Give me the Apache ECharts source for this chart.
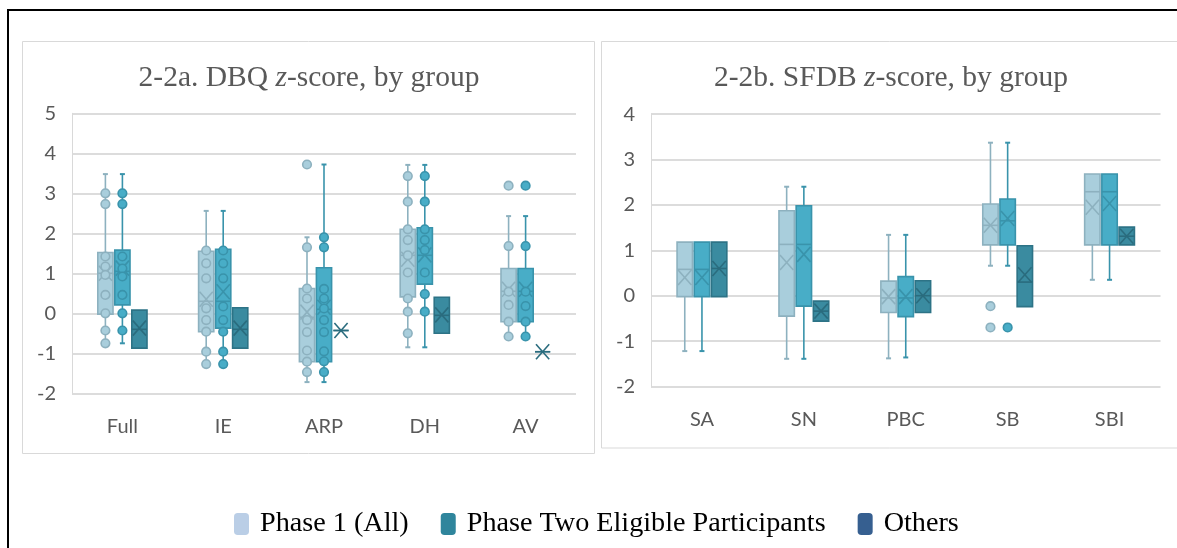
<!DOCTYPE html>
<html><head><meta charset="utf-8">
<script src="https://cdn.jsdelivr.net/npm/echarts@6/dist/echarts.min.js"></script>
<style>html,body{margin:0;padding:0;background:#fff}#c{width:1177px;height:548px}</style>
</head><body><div id="c"></div>
<script>
// ---------- DATA ----------
const dbqCats = ['Full', 'IE', 'ARP', 'DH', 'AV'];
const sfdbCats = ['SA', 'SN', 'PBC', 'SB', 'SBI'];
const dbqRange = [-2, 5];
const sfdbRange = [-2, 4];
const groupNames = ['Phase 1 (All)', 'Phase Two Eligible Participants', 'Others'];

// box stats per category: [min, q1, median, q3, max, mean]
const dbqPhase1 = [
  [-0.75, -0.02, 1.00, 1.52, 3.48, 1.00],
  [-1.27, -0.46, 0.30, 1.55, 2.56, 0.35],
  [-1.72, -1.21, -0.10, 0.62, 1.90, 0.03],
  [-0.85, 0.41, 1.45, 2.10, 3.71, 1.35],
  [-0.58, -0.21, 0.55, 1.12, 2.43, 0.60]
];
const dbqPhase2 = [
  [-0.75, 0.21, 1.05, 1.58, 3.48, 1.13],
  [-1.27, -0.37, 0.30, 1.60, 2.56, 0.54],
  [-1.72, -1.21, 0.10, 1.14, 3.72, 0.15],
  [-0.85, 0.73, 1.45, 2.14, 3.71, 1.46],
  [-0.58, -0.21, 0.55, 1.12, 2.43, 0.60]
];
const dbqOthers = [
  [-0.87, -0.87, -0.40, 0.08, 0.08, -0.37],
  [-0.87, -0.87, -0.40, 0.14, 0.14, -0.37],
  [-0.43, -0.43, -0.43, -0.43, -0.43, -0.43],
  [-0.50, -0.50, -0.05, 0.40, 0.40, -0.04],
  [-0.96, -0.96, -0.96, -0.96, -0.96, -0.96]
];
// inner points + outliers per category
const dbqPhase1Pts = [
  [3.00, 2.73, 1.42, 1.17, 0.96, 0.46, 0.00, -0.43, -0.75],
  [1.57, 1.25, 0.875, 0.125, -0.17, -0.46, -0.96, -1.27],
  [3.72, 1.65, 0.62, 0.37, -0.17, -0.47, -0.93, -1.21, -1.47],
  [3.43, 2.79, 2.10, 1.83, 1.45, 1.02, 0.37, 0.04, -0.50],
  [3.19, 1.68, 0.54, 0.21, -0.21, -0.58]
];
const dbqPhase2Pts = [
  [3.00, 2.73, 1.42, 1.12, 0.92, 0.46, 0.00, -0.43],
  [1.57, 1.25, 0.875, 0.17, -0.17, -0.46, -0.96, -1.27],
  [1.90, 1.65, 0.61, 0.37, 0.12, -0.17, -0.47, -0.95, -1.20, -1.47],
  [3.43, 2.79, 2.10, 1.83, 1.58, 1.02, 0.48, 0.04],
  [3.19, 1.68, 0.54, 0.18, -0.21, -0.58]
];

const sfdbPhase1 = [
  [-1.22, -0.02, 0.58, 1.18, 1.18, 0.40],
  [-1.39, -0.45, 1.13, 1.87, 2.40, 0.73],
  [-1.38, -0.37, -0.05, 0.32, 1.34, -0.02],
  [0.66, 1.12, 1.55, 2.02, 3.37, 1.55],
  [0.35, 1.12, 2.29, 2.68, 2.68, 1.95]
];
const sfdbPhase2 = [
  [-1.22, -0.02, 0.58, 1.18, 1.18, 0.40],
  [-1.39, -0.23, 1.13, 1.98, 2.40, 0.91],
  [-1.36, -0.46, -0.05, 0.42, 1.34, -0.02],
  [0.66, 1.12, 1.65, 2.13, 3.37, 1.70],
  [0.35, 1.12, 2.29, 2.68, 2.68, 2.03]
];
const sfdbOthers = [
  [-0.02, -0.02, 0.60, 1.18, 1.18, 0.60],
  [-0.56, -0.56, -0.34, -0.12, -0.12, -0.34],
  [-0.37, -0.37, 0.00, 0.33, 0.33, 0.00],
  [-0.24, -0.24, 0.30, 1.10, 1.10, 0.46],
  [1.12, 1.12, 1.31, 1.51, 1.51, 1.31]
];
const sfdbPhase1Pts = [[], [], [], [-0.23, -0.70], []];
const sfdbPhase2Pts = [[], [], [], [-0.70], []];

// ---------- STYLE ----------
const looks = [
  { fill: '#A9CEDC', stroke: '#8DB1BF', mark: '#8DB1BF' },
  { fill: '#48ADC7', stroke: '#3993AB', mark: '#3993AB' },
  { fill: '#3A8BA0', stroke: '#2D7386', mark: '#2A6C7E' }
];
const legendColors = ['#BACEE6', '#2F859C', '#365F90'];
const axisFont = 'Lato, "Open Sans", sans-serif';
const serif = '"Liberation Serif", "DejaVu Serif", serif';

function boxRender(g) {
  const c = looks[g];
  return function (params, api) {
    const cat = api.value(0);
    const band = api.size([1, 0])[0];
    const slot = band * 0.1687;
    const cx = api.coord([cat, 0])[0] + (g - 1) * slot;
    const y = i => api.coord([cat, api.value(i)])[1];
    const yMin = y(1), yQ1 = y(2), yMed = y(3), yQ3 = y(4), yMax = y(5), yMean = y(6);
    const hw = slot / 2 - 0.9;
    const ws = { stroke: c.stroke, lineWidth: 1.6 };
    const ch = [];
    if (yQ3 - yMax > 0.5) {
      ch.push({ type: 'line', shape: { x1: cx, y1: yQ3, x2: cx, y2: yMax }, style: ws });
      ch.push({ type: 'line', shape: { x1: cx - 2.5, y1: yMax, x2: cx + 2.5, y2: yMax }, style: { stroke: c.stroke, lineWidth: 2 } });
    }
    if (yMin - yQ1 > 0.5) {
      ch.push({ type: 'line', shape: { x1: cx, y1: yQ1, x2: cx, y2: yMin }, style: ws });
      ch.push({ type: 'line', shape: { x1: cx - 2.5, y1: yMin, x2: cx + 2.5, y2: yMin }, style: { stroke: c.stroke, lineWidth: 2 } });
    }
    ch.push({ type: 'rect', shape: { x: cx - hw, y: yQ3, width: hw * 2, height: yQ1 - yQ3 },
      style: { fill: c.fill, stroke: c.stroke, lineWidth: 1.6 } });
    ch.push({ type: 'line', shape: { x1: cx - hw, y1: yMed, x2: cx + hw, y2: yMed }, style: { stroke: c.mark, lineWidth: 1.6 } });
    const mx = hw - 1, my = 7.5;
    ch.push({ type: 'line', shape: { x1: cx - mx, y1: yMean - my, x2: cx + mx, y2: yMean + my }, style: { stroke: c.mark, lineWidth: 1.6 } });
    ch.push({ type: 'line', shape: { x1: cx - mx, y1: yMean + my, x2: cx + mx, y2: yMean - my }, style: { stroke: c.mark, lineWidth: 1.6 } });
    return { type: 'group', children: ch };
  };
}
function pointRender(g) {
  const c = looks[g];
  return function (params, api) {
    const cat = api.value(0);
    const band = api.size([1, 0])[0];
    const slot = band * 0.1687;
    const cx = api.coord([cat, 0])[0] + (g - 1) * slot;
    const cy = api.coord([cat, api.value(1)])[1];
    return { type: 'circle', shape: { cx: cx, cy: cy, r: 4.3 }, style: { fill: c.fill, stroke: c.stroke, lineWidth: 1.6 } };
  };
}
function boxData(arr) { return arr.map((s, i) => [i].concat(s)); }
function ptData(arr) { const out = []; arr.forEach((list, i) => list.forEach(v => out.push([i, v]))); return out; }

function boxSeries(name, g, axis, arr) {
  return { type: 'custom', name: name, xAxisIndex: axis, yAxisIndex: axis, renderItem: boxRender(g),
    itemStyle: { color: legendColors[g] }, encode: { x: 0, y: [1, 2, 3, 4, 5, 6] }, data: boxData(arr), z: 2 };
}
function ptSeries(name, g, axis, arr) {
  return { type: 'custom', name: name, xAxisIndex: axis, yAxisIndex: axis, renderItem: pointRender(g),
    itemStyle: { color: legendColors[g] }, encode: { x: 0, y: 1 }, data: ptData(arr), z: 3 };
}

function yAxis(gi, range) {
  return { type: 'value', gridIndex: gi, min: range[0], max: range[1], interval: 1,
    axisLine: { show: true, lineStyle: { color: '#D9D9D9', width: 1 } }, axisTick: { show: false },
    axisLabel: { color: '#595959', fontFamily: axisFont, fontSize: 20, margin: 16 },
    splitLine: { lineStyle: { color: '#DCDCDC', width: 2 } } };
}
function xAxis(gi, cats) {
  return { type: 'category', gridIndex: gi, data: cats, boundaryGap: true,
    axisLine: { show: false }, axisTick: { show: false },
    axisLabel: { color: '#595959', fontFamily: axisFont, fontSize: 20, margin: 23 } };
}
const titleRich = {
  n: { fontFamily: serif, fontSize: 29.5, fontWeight: 'normal', color: '#595959' },
  i: { fontFamily: serif, fontSize: 29.5, fontWeight: 'normal', color: '#595959', fontStyle: 'italic' }
};

const chart = echarts.init(document.getElementById('c'), null, { renderer: 'canvas' });
chart.setOption({
  animation: false,
  backgroundColor: '#fff',
  title: [
    { text: '{n|2-2a. DBQ }{i|z}{n|-score, by group}', left: 304, top: 58, textAlign: 'center', textStyle: { fontWeight: 'normal', rich: titleRich } },
    { text: '{n|2-2b. SFDB }{i|z}{n|-score, by group}', left: 886, top: 58, textAlign: 'center', textStyle: { fontWeight: 'normal', rich: titleRich } }
  ],
  legend: {
    left: 229, top: 505, icon: 'roundRect', itemWidth: 15, itemHeight: 22, itemGap: 32,
    selectedMode: false,
    textStyle: { fontFamily: serif, fontSize: 28.2, color: '#000', padding: [0, 0, 0, 6] },
    data: groupNames.map((n, i) => ({ name: n, itemStyle: { color: legendColors[i] } }))
  },
  grid: [
    { left: 72, top: 113.3, width: 504, height: 280 },
    { left: 651, top: 114.1, width: 509.5, height: 272.4 }
  ],
  xAxis: [xAxis(0, dbqCats), xAxis(1, sfdbCats)],
  yAxis: [yAxis(0, dbqRange), yAxis(1, sfdbRange)],
  graphic: [
    { type: 'rect', shape: { x: 22.5, y: 41.5, width: 572, height: 412 }, style: { fill: 'none', stroke: '#D9D9D9', lineWidth: 1 }, z: -10 },
    { type: 'rect', shape: { x: 601.5, y: 41.5, width: 600, height: 406.5 }, style: { fill: 'none', stroke: '#D9D9D9', lineWidth: 1 }, z: -10 },
    { type: 'line', shape: { x1: 7, y1: 10, x2: 1177, y2: 10 }, style: { stroke: '#000', lineWidth: 2 } },
    { type: 'line', shape: { x1: 8, y1: 9, x2: 8, y2: 548 }, style: { stroke: '#000', lineWidth: 2 } }
  ],
  series: [
    boxSeries(groupNames[0], 0, 0, dbqPhase1),
    boxSeries(groupNames[1], 1, 0, dbqPhase2),
    boxSeries(groupNames[2], 2, 0, dbqOthers),
    ptSeries(groupNames[0], 0, 0, dbqPhase1Pts),
    ptSeries(groupNames[1], 1, 0, dbqPhase2Pts),
    boxSeries(groupNames[0], 0, 1, sfdbPhase1),
    boxSeries(groupNames[1], 1, 1, sfdbPhase2),
    boxSeries(groupNames[2], 2, 1, sfdbOthers),
    ptSeries(groupNames[0], 0, 1, sfdbPhase1Pts),
    ptSeries(groupNames[1], 1, 1, sfdbPhase2Pts)
  ]
});
</script></body></html>
